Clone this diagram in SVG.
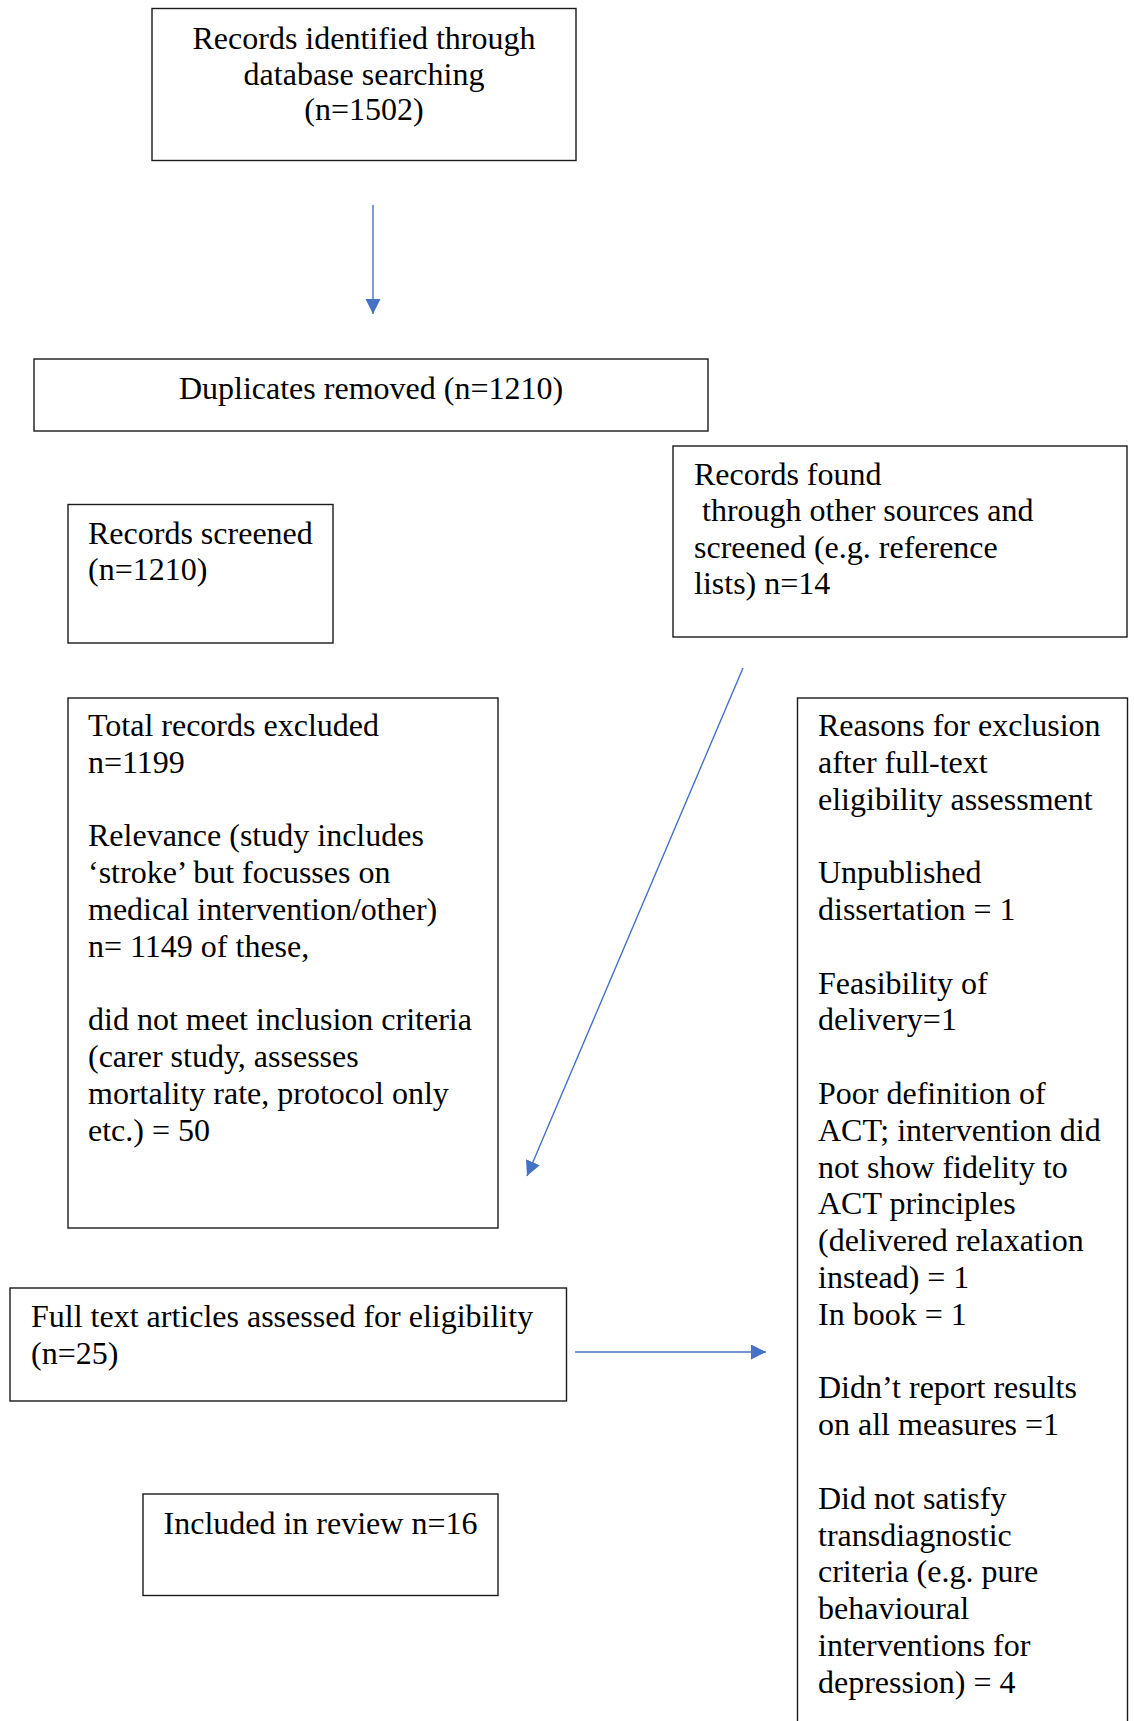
<svg xmlns="http://www.w3.org/2000/svg" width="1134" height="1721" viewBox="0 0 1134 1721">
<style>
.box{fill:#fff;stroke:#1a1a1a;stroke-width:1.4}
.t{font-family:"Liberation Serif","Times New Roman",serif;font-size:32px;fill:#000}
.c{text-anchor:middle}
.conn{stroke:#4472C4;stroke-width:1.4;fill:none;marker-end:url(#ah)}
</style>
<defs>
<marker id="ah" markerUnits="userSpaceOnUse" markerWidth="16" markerHeight="16" refX="15" refY="7.5" orient="auto">
<path d="M0,0 L15,7.5 L0,15 z" fill="#4472C4"/>
</marker>
</defs>
<rect width="1134" height="1721" fill="#fff"/>
<g id="connectors">
<line class="conn" x1="373" y1="205" x2="373" y2="314"/>
<line class="conn" x1="743" y1="668" x2="527" y2="1176"/>
<line class="conn" x1="575" y1="1352" x2="766" y2="1352"/>
</g>
<g id="identified">
<rect class="box" x="152" y="8.5" width="424" height="152"/>
<text class="t c" x="364" y="49">Records identified through</text>
<text class="t c" x="364" y="84.5">database searching</text>
<text class="t c" x="364" y="120">(n=1502)</text>
</g>
<g id="duplicates">
<rect class="box" x="34" y="359" width="674" height="72"/>
<text class="t c" x="371" y="398.5">Duplicates removed (n=1210)</text>
</g>
<g id="other-sources">
<rect class="box" x="673" y="446" width="454" height="191"/>
<text class="t" x="694" y="484.5">Records found</text>
<text class="t" x="694" y="521" xml:space="preserve"> through other sources and</text>
<text class="t" x="694" y="557.5">screened (e.g. reference</text>
<text class="t" x="694" y="594">lists) n=14</text>
</g>
<g id="screened">
<rect class="box" x="68" y="504.5" width="265" height="138.5"/>
<text class="t" x="88" y="544">Records screened</text>
<text class="t" x="88" y="580">(n=1210)</text>
</g>
<g id="excluded">
<rect class="box" x="68" y="698" width="430" height="530"/>
<text class="t" x="88" y="736">Total records excluded</text>
<text class="t" x="88" y="772.8">n=1199</text>
<text class="t" x="88" y="846.4">Relevance (study includes</text>
<text class="t" x="88" y="883.2">‘stroke’ but focusses on</text>
<text class="t" x="88" y="920">medical intervention/other)</text>
<text class="t" x="88" y="956.8">n= 1149 of these,</text>
<text class="t" x="88" y="1030.4">did not meet inclusion criteria</text>
<text class="t" x="88" y="1067.2">(carer study, assesses</text>
<text class="t" x="88" y="1104">mortality rate, protocol only</text>
<text class="t" x="88" y="1140.8">etc.) = 50</text>
</g>
<g id="reasons">
<rect class="box" x="797.5" y="698" width="330" height="1040"/>
<text class="t" x="818" y="736">Reasons for exclusion</text>
<text class="t" x="818" y="772.8">after full-text</text>
<text class="t" x="818" y="809.6">eligibility assessment</text>
<text class="t" x="818" y="883.2">Unpublished</text>
<text class="t" x="818" y="920">dissertation = 1</text>
<text class="t" x="818" y="993.6">Feasibility of</text>
<text class="t" x="818" y="1030.4">delivery=1</text>
<text class="t" x="818" y="1104">Poor definition of</text>
<text class="t" x="818" y="1140.8">ACT; intervention did</text>
<text class="t" x="818" y="1177.6">not show fidelity to</text>
<text class="t" x="818" y="1214.4">ACT principles</text>
<text class="t" x="818" y="1251.2">(delivered relaxation</text>
<text class="t" x="818" y="1288">instead) = 1</text>
<text class="t" x="818" y="1324.8">In book = 1</text>
<text class="t" x="818" y="1398.4">Didn’t report results</text>
<text class="t" x="818" y="1435.2">on all measures =1</text>
<text class="t" x="818" y="1508.8">Did not satisfy</text>
<text class="t" x="818" y="1545.6">transdiagnostic</text>
<text class="t" x="818" y="1582.4">criteria (e.g. pure</text>
<text class="t" x="818" y="1619.2">behavioural</text>
<text class="t" x="818" y="1656">interventions for</text>
<text class="t" x="818" y="1692.8">depression) = 4</text>
</g>
<g id="fulltext">
<rect class="box" x="10" y="1288" width="556.5" height="113"/>
<text class="t" x="31" y="1327">Full text articles assessed for eligibility</text>
<text class="t" x="31" y="1363.5">(n=25)</text>
</g>
<g id="included">
<rect class="box" x="143" y="1494" width="355" height="101.5"/>
<text class="t c" x="320.5" y="1534">Included in review n=16</text>
</g>
</svg>
